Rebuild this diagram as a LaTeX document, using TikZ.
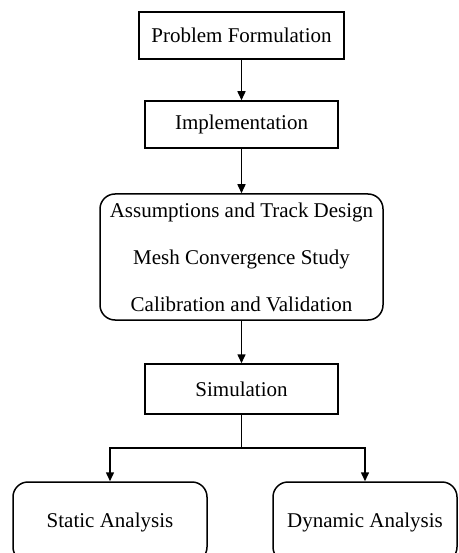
\documentclass[tikz,border=0pt]{standalone}
\usepackage{fontspec}
\setmainfont{Liberation Serif}
\usetikzlibrary{arrows.meta,positioning,calc}
\definecolor{FlowInk}{HTML}{000000}
\definecolor{FlowPaper}{HTML}{FFFFFF}
\tikzset{
  flow text/.style={font=\fontsize{21}{47}\selectfont, text=FlowInk},
  flow box/.style={flow text, draw=FlowInk, fill=FlowPaper, line width=1.5pt, inner sep=0pt, align=center},
  flow stage/.style={flow box, rounded corners=15pt},
  flow line/.style={draw=FlowInk, line width=1.5pt},
  flow arrow/.style={flow line, -{Triangle[length=9pt,width=8pt]}},
}

\begin{document}
\begin{tikzpicture}[x=1pt,y=-1pt]
  \useasboundingbox (0,0) rectangle (458,553);

  % Upper chain: formulation, implementation, modelling steps.
  \node[flow box, minimum width=205pt, minimum height=47pt] (formulation) at (241.5,35.5) {Problem Formulation};
  \node[flow box, minimum width=193pt, minimum height=47pt] (implementation) at (241.5,124.5) {Implementation};
  \node[flow stage, minimum width=283pt, minimum height=126pt] (modelling) at (241.5,257)
    {Assumptions and Track Design\\Mesh Convergence Study\\Calibration and Validation};
  \node[flow box, minimum width=193pt, minimum height=50pt] (simulation) at (241.5,389) {Simulation};

  \draw[flow arrow] (formulation) -- (implementation);
  \draw[flow arrow] (implementation) -- (modelling);
  \draw[flow arrow] (modelling) -- (simulation);

  % Simulation splits into the two analyses (cut at the page edge).
  \node[flow stage, minimum width=194pt, minimum height=80pt] (static) at (110,522) {Static Analysis};
  \node[flow stage, minimum width=184pt, minimum height=80pt] (dynamic) at (365,522) {Dynamic Analysis};

  \draw[flow line] (simulation.south) -- ++(0,33) coordinate (branch);
  \draw[flow arrow] (branch) -| (static);
  \draw[flow arrow] (branch) -| (dynamic);
\end{tikzpicture}
\end{document}
